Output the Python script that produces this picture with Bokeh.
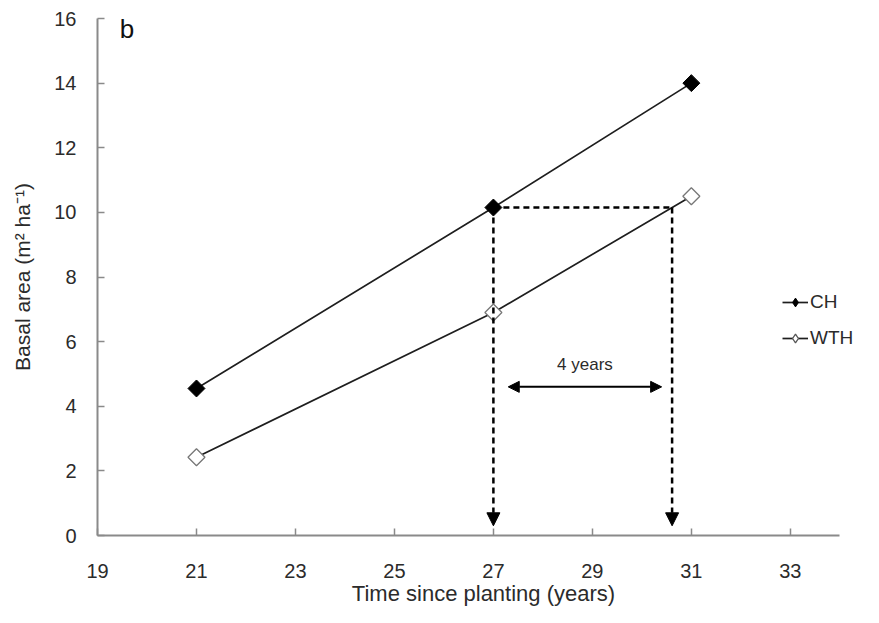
import math
from bokeh.plotting import figure
from bokeh.models import (Range1d, FixedTicker, Legend, LegendItem, Arrow,
                          NormalHead, Label)
from bokeh.embed import file_html
from bokeh.resources import INLINE

# ---- data ----
years = [21, 27, 31]
ch = [4.55, 10.15, 14.0]
wth = [2.42, 6.9, 10.5]
x_ticks = [19, 21, 23, 25, 27, 29, 31, 33]
y_ticks = [0, 2, 4, 6, 8, 10, 12, 14, 16]

# annotation values
arrow_tip_y = 0.3
span_arrow_y = 4.6
span_arrow_x = [27.3, 30.4]
span_text = "4 years"
panel_text = "b"

# year when WTH reaches the CH basal area at age 27
target = ch[1]
x_match = years[1] + (target - wth[1]) / (wth[2] - wth[1]) * (years[2] - years[1])

FONT = "Liberation Sans"
TXT = "#2b2b2b"

p = figure(width=876, height=620, output_backend="svg", toolbar_location=None,
           x_range=Range1d(19, 34.6), y_range=Range1d(0, 16),
           min_border_left=97, min_border_right=7, min_border_top=18,
           min_border_bottom=85)
p.outline_line_color = None
p.xgrid.visible = False
p.ygrid.visible = False
p.background_fill_color = "white"
p.border_fill_color = "white"

for ax in (p.xaxis[0], p.yaxis[0]):
    ax.axis_line_color = "#8a8a8a"
    ax.axis_line_width = 2
    ax.major_tick_line_color = "#8a8a8a"
    ax.major_tick_line_width = 1.5
    ax.major_tick_in = 7
    ax.major_tick_out = 0
    ax.minor_tick_line_color = None
    ax.major_label_text_font = FONT
    ax.major_label_text_font_size = "20px"
    ax.major_label_text_color = TXT
    ax.axis_label_text_font = FONT
    ax.axis_label_text_font_style = "normal"
    ax.axis_label_text_color = TXT

p.xaxis.bounds = (19, 34)
p.xaxis.ticker = FixedTicker(ticks=x_ticks)
p.yaxis.ticker = FixedTicker(ticks=y_ticks)
p.xaxis.major_label_standoff = 28
p.yaxis.major_label_standoff = 21
p.xaxis.axis_label = "Time since planting (years)"
p.yaxis.axis_label = "Basal area (m² ha⁻¹)"
p.xaxis.axis_label_text_font_size = "22px"
p.yaxis.axis_label_text_font_size = "21px"
p.xaxis.axis_label_standoff = 0
p.yaxis.axis_label_standoff = 17

# dashed guide lines
p.line([years[1], x_match], [target, target], line_color="black",
       line_width=2.5, line_dash="6 4")
dash_head = dict(size=13, fill_color="black", line_color="black")
p.add_layout(Arrow(end=NormalHead(**dash_head), x_start=years[1], y_start=target,
                   x_end=years[1], y_end=arrow_tip_y, line_width=2.5,
                   line_dash="6 4", line_color="black"))
p.add_layout(Arrow(end=NormalHead(**dash_head), x_start=x_match, y_start=target,
                   x_end=x_match, y_end=arrow_tip_y, line_width=2.5,
                   line_dash="6 4", line_color="black"))

# span arrow
p.add_layout(Arrow(start=NormalHead(size=11, fill_color="black", line_color="black"),
                   end=NormalHead(size=11, fill_color="black", line_color="black"),
                   x_start=span_arrow_x[0], y_start=span_arrow_y,
                   x_end=span_arrow_x[1], y_end=span_arrow_y,
                   line_width=2, line_color="black"))
p.add_layout(Label(x=sum(span_arrow_x) / 2, y=span_arrow_y + 0.68, text=span_text,
                   text_align="center", text_baseline="middle",
                   text_font=FONT, text_font_size="17px", text_color=TXT))

# series lines
ch_line = p.line(years, ch, line_color="#1e1e1e", line_width=1.7)
wth_line = p.line(years, wth, line_color="#1e1e1e", line_width=1.7)

# diamond keys used for the legend (hidden beneath the plotted markers)
ch_key = p.scatter(years, ch, marker="diamond", size=13,
                   fill_color="black", line_color="black")
wth_key = p.scatter(years, wth, marker="diamond", size=13,
                    fill_color="white", line_color="#555555", line_width=1.3)

# plotted markers
ch_pts = p.scatter(years, ch, marker="square", angle=math.pi / 4, size=12,
                   fill_color="black", line_color="black")
wth_pts = p.scatter(years, wth, marker="square", angle=math.pi / 4, size=12,
                    fill_color="white", line_color="#777777", line_width=1.3)

p.add_layout(Label(x=19.45, y=15.68, text=panel_text, text_align="left",
                   text_baseline="middle", text_font=FONT,
                   text_font_size="26px", text_color="#111111"))

legend = Legend(items=[LegendItem(label="CH", renderers=[ch_line, ch_key]),
                       LegendItem(label="WTH", renderers=[wth_line, wth_key])],
                location=(685, 186), padding=0, margin=0, spacing=14,
                glyph_width=26, glyph_height=22, label_standoff=2,
                label_text_font=FONT, label_text_font_size="19px",
                label_text_color=TXT, border_line_color=None,
                background_fill_alpha=0)
p.add_layout(legend, "center")

open("out.html", "w").write(file_html(p, INLINE))
